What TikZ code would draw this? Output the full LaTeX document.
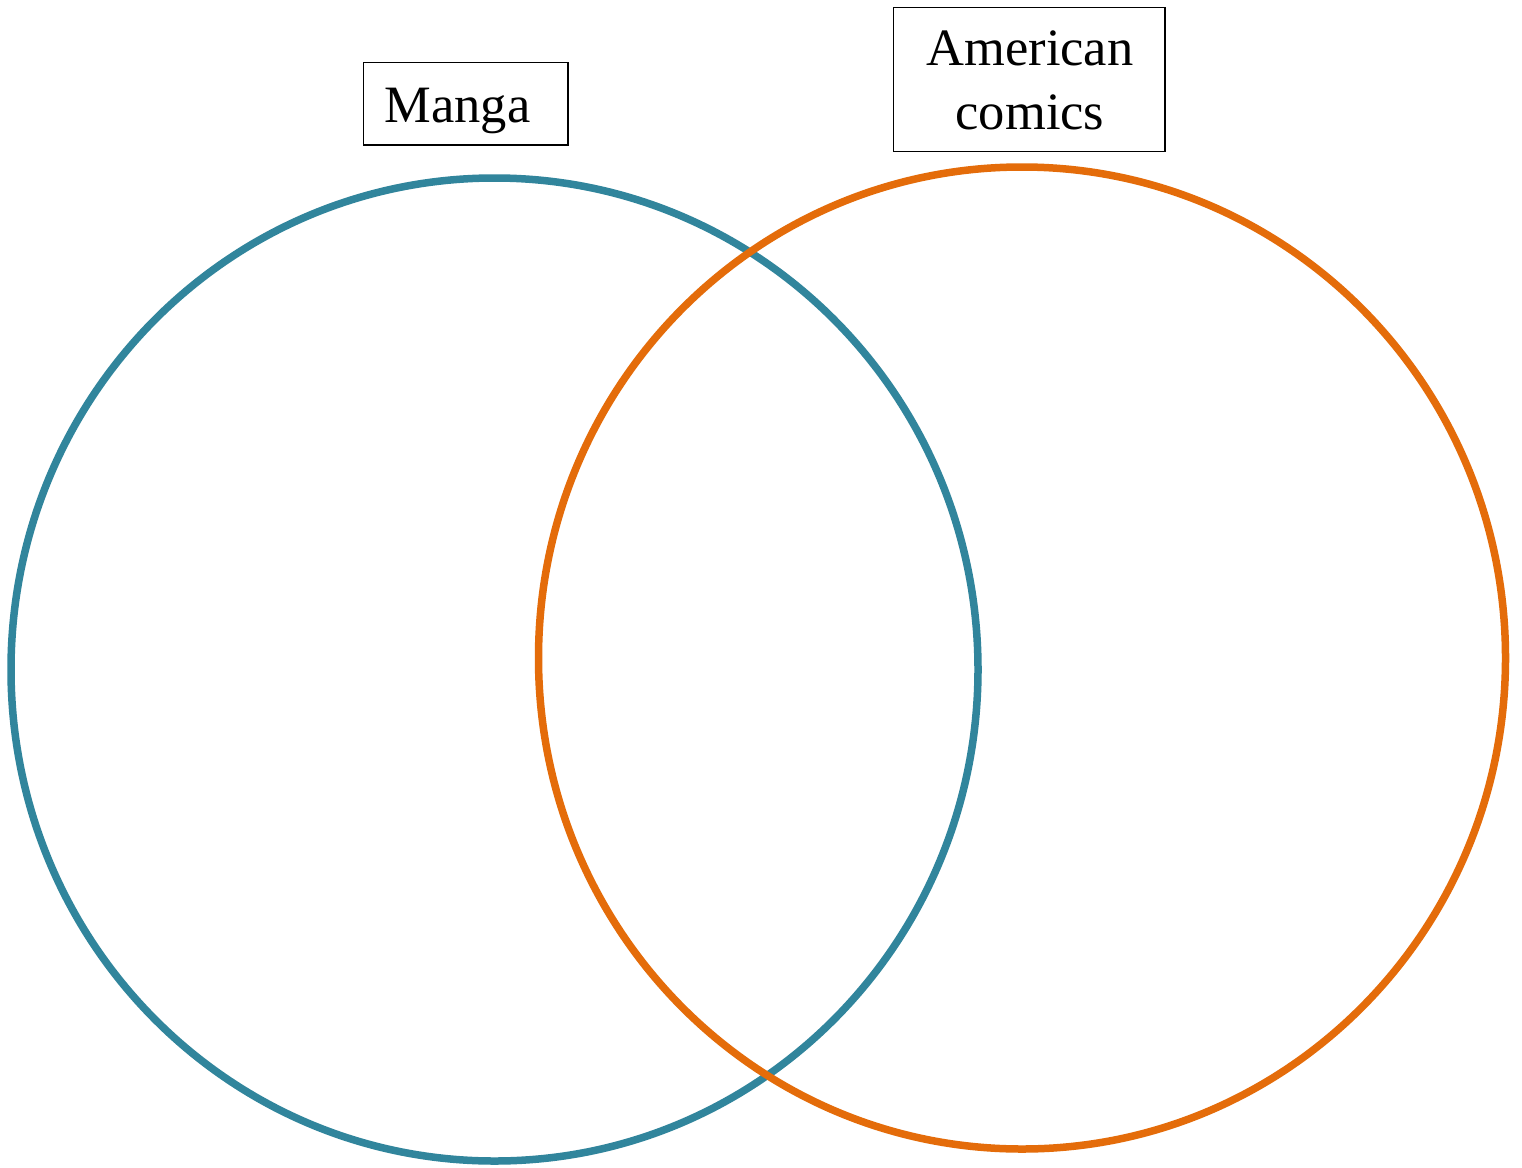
\documentclass[tikz,border=0pt]{standalone}
\usepackage{fontspec}
\setmainfont{Liberation Serif}
\usetikzlibrary{shapes.geometric}
\definecolor{mangablue}{HTML}{31859C}
\definecolor{amerorange}{HTML}{E46C0A}
\tikzset{
  vennring/.style={line width=7.5pt, ellipse, inner sep=0pt},
  labelbox/.style={draw=black, line width=1.5pt, inner sep=0pt},
  labeltext/.style={font=\fontsize{52.5}{63.6}\selectfont, inner sep=0pt, text=black},
}
\begin{document}
\begin{tikzpicture}[x=1pt,y=-1pt]
\useasboundingbox (0,0) rectangle (1522,1167);
\fill[white] (0,0) rectangle (1522,1167);
% circles
\node[vennring, draw=mangablue, minimum width=967pt, minimum height=983pt] (manga) at (494.5,669.5) {};
\node[vennring, draw=amerorange, minimum width=967pt, minimum height=982pt] (american) at (1022,658) {};
% label boxes
\node[labelbox, minimum width=204.7pt, minimum height=82.7pt] (mangabox) at (465.7,103.7) {};
\node[labeltext, anchor=base] (mangatext) at (457.5,122.7) {Manga};
\node[labelbox, minimum width=271.7pt, minimum height=144.4pt] (amerbox) at (1029.2,79.5) {};
\node[labeltext, anchor=base, align=center] (amertext) at (1030,129.3) {American\\comics};
\end{tikzpicture}
\end{document}
